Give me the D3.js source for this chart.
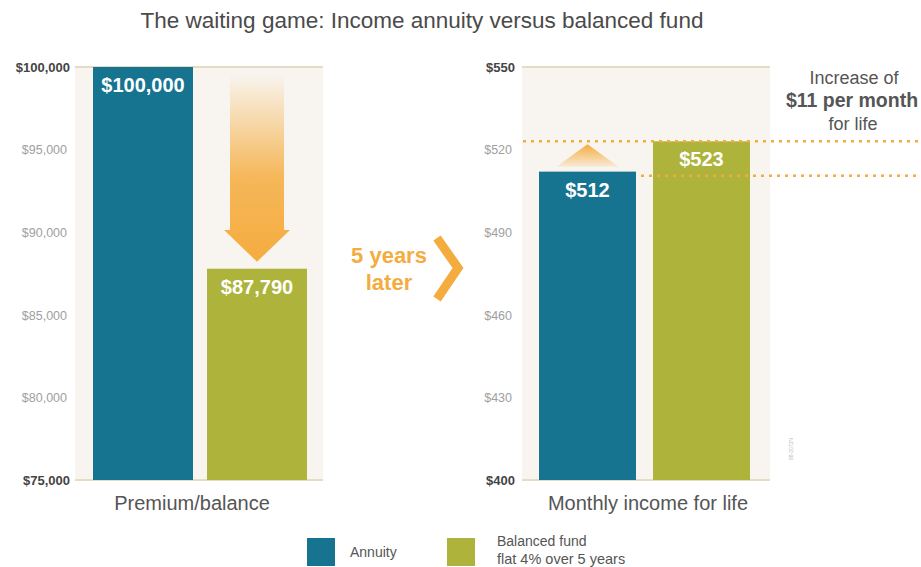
<!DOCTYPE html>
<html lang="en">
<head>
  <meta charset="UTF-8">
  <title>The waiting game</title>
  <script src="https://d3js.org/d3.v7.min.js"></script>
  <style>
    body { margin: 0; background: white; font-family: "Liberation Sans", Arial, sans-serif; }
    text { font-family: "Liberation Sans", Arial, sans-serif; }
  </style>
</head>
<body>
  <div id="chart"></div>
  <script>
    // data
    const series = ["Annuity", "Balanced fund"];
    const seriesNote = ["", "flat 4% over 5 years"];
    const premiumValues = [100000, 87790];
    const incomeValues = [512, 523];
    const premiumTicks = [75000, 80000, 85000, 90000, 95000, 100000];
    const incomeTicks = [400, 430, 460, 490, 520, 550];
    const colors = ["#167491", "#adb33b"];
    const orange = "#f5ac3f";

    const width = 921, height = 567;
    const svg = d3.select("#chart").append("svg")
      .attr("width", width).attr("height", height);

    const defs = svg.append("defs");
    const gDown = defs.append("linearGradient").attr("id", "gradDown")
      .attr("x1", 0).attr("y1", 0).attr("x2", 0).attr("y2", 1);
    gDown.append("stop").attr("offset", "0%").attr("stop-color", orange).attr("stop-opacity", 0);
    gDown.append("stop").attr("offset", "55%").attr("stop-color", orange).attr("stop-opacity", 0.85);
    gDown.append("stop").attr("offset", "100%").attr("stop-color", orange).attr("stop-opacity", 1);
    const gUp = defs.append("linearGradient").attr("id", "gradUp")
      .attr("x1", 0).attr("y1", 0).attr("x2", 0).attr("y2", 1);
    gUp.append("stop").attr("offset", "0%").attr("stop-color", orange).attr("stop-opacity", 1);
    gUp.append("stop").attr("offset", "100%").attr("stop-color", orange).attr("stop-opacity", 0.15);

    // title
    svg.append("text")
      .attr("x", 422).attr("y", 28)
      .attr("text-anchor", "middle")
      .attr("fill", "#4a4a4a")
      .style("font-size", "22.5px")
      .text("The waiting game: Income annuity versus balanced fund");

    const plotTop = 67, plotBottom = 480;

    function fmtMoney(v) { return "$" + d3.format(",")(v); }

    function panel(opts) {
      const y = d3.scaleLinear().domain(opts.domain).range([plotBottom, plotTop]);
      const x = d3.scaleBand().domain(series).range(opts.barRange)
        .paddingInner(opts.pad).paddingOuter(0);
      const isEnd = d => d === opts.domain[0] || d === opts.domain[1];

      const g = svg.append("g");
      g.append("rect")
        .attr("x", opts.left).attr("y", plotTop)
        .attr("width", opts.right - opts.left).attr("height", plotBottom - plotTop)
        .attr("fill", "#f8f5f0");

      g.selectAll("line.grid")
        .data([opts.domain[0], opts.domain[1]])
        .join("line")
        .attr("class", "grid")
        .attr("x1", opts.left).attr("x2", opts.right)
        .attr("y1", d => y(d)).attr("y2", d => y(d))
        .attr("stroke", "#e6dcc4").attr("stroke-width", 2);

      const axis = d3.axisLeft(y).tickValues(opts.ticks)
        .tickFormat(fmtMoney).tickSize(0).tickPadding(0);
      const ax = g.append("g")
        .attr("transform", `translate(${opts.left - opts.labelGap},0)`)
        .call(axis);
      ax.select(".domain").remove();
      ax.selectAll("text")
        .attr("dy", "0.35em")
        .attr("x", d => isEnd(d) ? 0 : -3)
        .style("font-size", d => isEnd(d) ? "13px" : "12.5px")
        .attr("fill", d => isEnd(d) ? "#444" : "#a0a0a0")
        .style("font-weight", d => isEnd(d) ? "bold" : "normal");

      g.selectAll("rect.bar")
        .data(opts.values)
        .join("rect")
        .attr("class", "bar")
        .attr("x", (d, i) => x(series[i]))
        .attr("y", d => y(d))
        .attr("width", x.bandwidth())
        .attr("height", d => y(opts.domain[0]) - y(d))
        .attr("fill", (d, i) => colors[i]);

      g.selectAll("text.val")
        .data(opts.values)
        .join("text")
        .attr("class", "val")
        .attr("x", (d, i) => x(series[i]) + x.bandwidth() / 2)
        .attr("y", d => y(d) + 25)
        .attr("text-anchor", "middle")
        .attr("fill", "white")
        .style("font-size", "20px")
        .style("font-weight", "bold")
        .text(d => fmtMoney(d));

      g.append("text")
        .attr("x", opts.labelX)
        .attr("y", 510)
        .attr("text-anchor", "middle")
        .attr("fill", "#555")
        .style("font-size", "20px")
        .text(opts.label);

      return { x, y, g };
    }

    const left = panel({
      left: 75, right: 323, barRange: [93, 307], pad: 0.123, labelGap: 5,
      domain: [75000, 100000], ticks: premiumTicks, values: premiumValues,
      label: "Premium/balance", labelX: 192
    });

    const right = panel({
      left: 522, right: 770, barRange: [539, 750], pad: 0.149, labelGap: 7,
      domain: [400, 550], ticks: incomeTicks, values: incomeValues,
      label: "Monthly income for life", labelX: 648
    });

    // down arrow in left panel
    const ax0 = left.x(series[1]) + left.x.bandwidth() / 2;
    const arrowTop = 73, headTop = 230, tip = left.y(premiumValues[1]) - 7;
    svg.append("path")
      .attr("d", `M${ax0 - 27},${arrowTop} L${ax0 + 27},${arrowTop} L${ax0 + 27},${headTop} L${ax0 + 33},${headTop} L${ax0},${tip} L${ax0 - 33},${headTop} L${ax0 - 27},${headTop} Z`)
      .attr("fill", "url(#gradDown)");

    // "5 years later"
    svg.append("text").attr("x", 389).attr("y", 263).attr("text-anchor", "middle")
      .attr("fill", orange).style("font-size", "22px").style("font-weight", "bold")
      .text("5 years");
    svg.append("text").attr("x", 389).attr("y", 290).attr("text-anchor", "middle")
      .attr("fill", orange).style("font-size", "22px").style("font-weight", "bold")
      .text("later");
    svg.append("path")
      .attr("d", "M437,238 L458,268 L437,299")
      .attr("fill", "none").attr("stroke", orange).attr("stroke-width", 9);

    // dotted reference lines on right panel
    const ry = right.y;
    svg.append("line")
      .attr("x1", 523).attr("x2", width)
      .attr("y1", ry(incomeValues[1])).attr("y2", ry(incomeValues[1]))
      .attr("stroke", orange).attr("stroke-width", 2.5).attr("stroke-dasharray", "3,5");
    svg.append("line")
      .attr("x1", right.x(series[0]) + right.x.bandwidth() + 5).attr("x2", width)
      .attr("y1", ry(incomeValues[0]) + 4).attr("y2", ry(incomeValues[0]) + 4)
      .attr("stroke", orange).attr("stroke-width", 2.5).attr("stroke-dasharray", "3,5");

    // up triangle above annuity bar
    const ux = right.x(series[0]) + right.x.bandwidth() / 2;
    const ub = ry(incomeValues[0]) - 5;
    svg.append("path")
      .attr("d", `M${ux - 31},${ub} L${ux},${ry(incomeValues[1]) + 3} L${ux + 31},${ub} Z`)
      .attr("fill", "url(#gradUp)");

    // annotation
    const ann = svg.append("g").attr("text-anchor", "middle").attr("fill", "#555").style("font-size", "18px");
    ann.append("text").attr("x", 854).attr("y", 84).text("Increase of");
    ann.append("text").attr("x", 852).attr("y", 107).style("font-weight", "bold").style("font-size", "19.5px")
      .text("$" + (incomeValues[1] - incomeValues[0]) + " per month");
    ann.append("text").attr("x", 853).attr("y", 130).text("for life");

    // code mark
    svg.append("text")
      .attr("transform", "translate(793,460) rotate(-90)")
      .attr("fill", "#bbb").style("font-size", "5px")
      .text("88-2072N");

    // legend
    const legend = svg.append("g").attr("fill", "#555").style("font-size", "14px");
    const lx = [307, 447];
    series.forEach((s, i) => {
      legend.append("rect").attr("x", lx[i]).attr("y", 538).attr("width", 28).attr("height", 28).attr("fill", colors[i]);
      if (seriesNote[i]) {
        legend.append("text").attr("x", lx[i] + 50).attr("y", 546).text(s);
        legend.append("text").attr("x", lx[i] + 50).attr("y", 564).style("font-size", "14.5px").text(seriesNote[i]);
      } else {
        legend.append("text").attr("x", lx[i] + 43).attr("y", 557).text(s);
      }
    });
  </script>
</body>
</html>
